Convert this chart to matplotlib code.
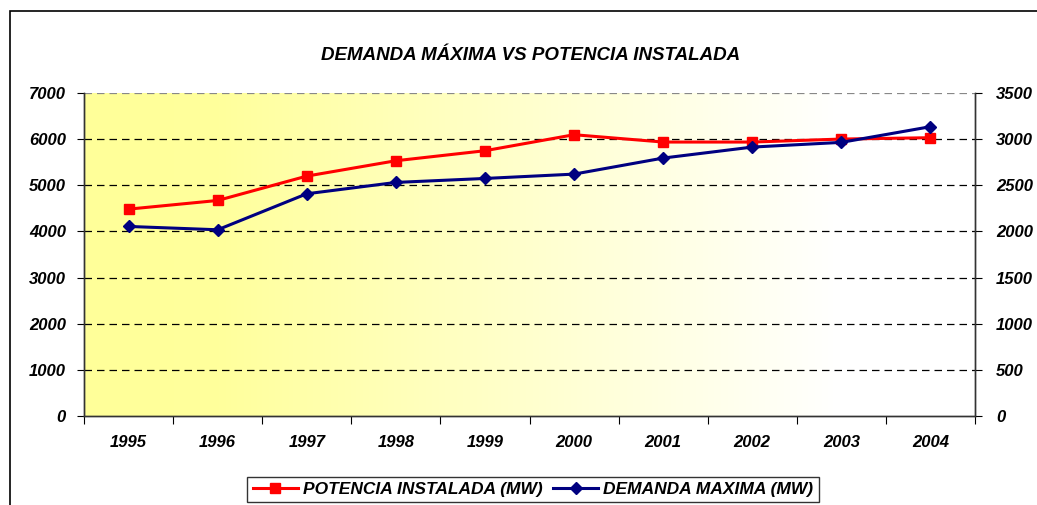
import matplotlib
matplotlib.use("Agg")
import matplotlib.pyplot as plt
import numpy as np
from matplotlib.colors import LinearSegmentedColormap
from matplotlib.patches import Rectangle
from matplotlib.lines import Line2D

years = ["1995", "1996", "1997", "1998", "1999", "2000", "2001", "2002", "2003", "2004"]
potencia_instalada = [4483, 4671, 5199, 5532, 5749, 6096, 5937, 5937, 6002, 6031]
demanda_maxima = [2054, 2018, 2408, 2531, 2574, 2621, 2795, 2914, 2965, 3135]

left_ticks = [0, 1000, 2000, 3000, 4000, 5000, 6000, 7000]
right_ticks = [0, 500, 1000, 1500, 2000, 2500, 3000, 3500]

plt.rcParams["font.family"] = ["Liberation Sans", "DejaVu Sans"]

fig = plt.figure(figsize=(10.37, 5.05), dpi=100)
fig.patch.set_facecolor("white")

# chart-area frame, runs off the right and bottom edges
fig.patches.append(Rectangle((10 / 1037, -0.2), 1.2, 1.2 - 11 / 505,
                             transform=fig.transFigure, fill=False,
                             edgecolor="black", linewidth=1.2, zorder=0))

ax = fig.add_axes([84 / 1037, 1 - 416 / 505, 891 / 1037, 323 / 505])
ax2 = ax.twinx()

x = np.arange(len(years))
ax.set_xlim(-0.5, len(years) - 0.5)
ax.set_ylim(0, 7000)
ax2.set_ylim(0, 3500)

# yellow-to-white horizontal gradient background
cmap = LinearSegmentedColormap.from_list(
    "bg", [(0.0, "#FFFF99"), (0.15, "#FFFF9C"), (0.85, "#FFFFFF"), (1.0, "#FFFFFF")])
grad = np.linspace(0, 1, 512).reshape(1, -1)
ax.imshow(grad, cmap=cmap, aspect="auto", extent=[-0.5, len(years) - 0.5, 0, 7000],
          zorder=0, interpolation="bilinear")

for v in left_ticks[1:-1]:
    ax.axhline(v, color="black", linestyle=(0, (6, 4)), linewidth=0.9, zorder=1)
ax.axhline(left_ticks[-1], color="#888888", linestyle=(0, (6, 4)), linewidth=0.9, zorder=1)

ax.plot(x, potencia_instalada, color="#FF0000", linewidth=2.2, marker="s",
        markersize=7, zorder=3)
ax2.plot(x, demanda_maxima, color="#000080", linewidth=2.2, marker="D",
         markersize=6, zorder=3)

# category boundaries get the tick marks, year labels sit between them
ax.set_xticks(np.arange(len(years) + 1) - 0.5)
ax.set_xticklabels([])
ax.set_xticks(x, minor=True)
ax.set_xticklabels(years, minor=True)
ax.tick_params(axis="x", which="major", length=6, direction="out", width=0.8)
ax.tick_params(axis="x", which="minor", length=0, pad=14)

ax.set_yticks(left_ticks)
ax.set_yticklabels([str(v) for v in left_ticks])
ax2.set_yticks(right_ticks)
ax2.set_yticklabels([str(v) for v in right_ticks])
ax.tick_params(axis="y", length=5, width=0.8, pad=8)
ax2.tick_params(axis="y", length=5, width=0.8, pad=10)

for lab in ax.get_xticklabels(minor=True) + ax.get_yticklabels() + ax2.get_yticklabels():
    lab.set_fontsize(12)
    lab.set_fontweight("bold")
    lab.set_fontstyle("italic")

for a in (ax, ax2):
    a.spines["top"].set_visible(False)
    for s in ("left", "right", "bottom"):
        a.spines[s].set_color("#333333")
        a.spines[s].set_linewidth(1.0)
ax.set_zorder(ax2.get_zorder() - 1)
ax2.patch.set_visible(False)

fig.text(531 / 1037, 1 - 56 / 505, "DEMANDA MÁXIMA VS POTENCIA INSTALADA",
         ha="center", va="center", fontsize=13.5, fontweight="bold", fontstyle="italic")

handles = [
    Line2D([], [], color="#FF0000", linewidth=2.2, marker="s", markersize=7),
    Line2D([], [], color="#000080", linewidth=2.2, marker="D", markersize=6),
]
leg = fig.legend(handles, ["POTENCIA INSTALADA (MW)", "DEMANDA MAXIMA (MW)"],
                 loc="upper center", bbox_to_anchor=(533 / 1037, 1 - 468 / 505),
                 ncol=2, frameon=True, fancybox=False, borderpad=0.3,
                 handlelength=2.6, handletextpad=0.3, columnspacing=0.6,
                 prop={"size": 12.5, "weight": "bold", "style": "italic"})
leg.get_frame().set_edgecolor("black")
leg.get_frame().set_linewidth(1.0)

fig.savefig("out.png", dpi=100, facecolor="white")
